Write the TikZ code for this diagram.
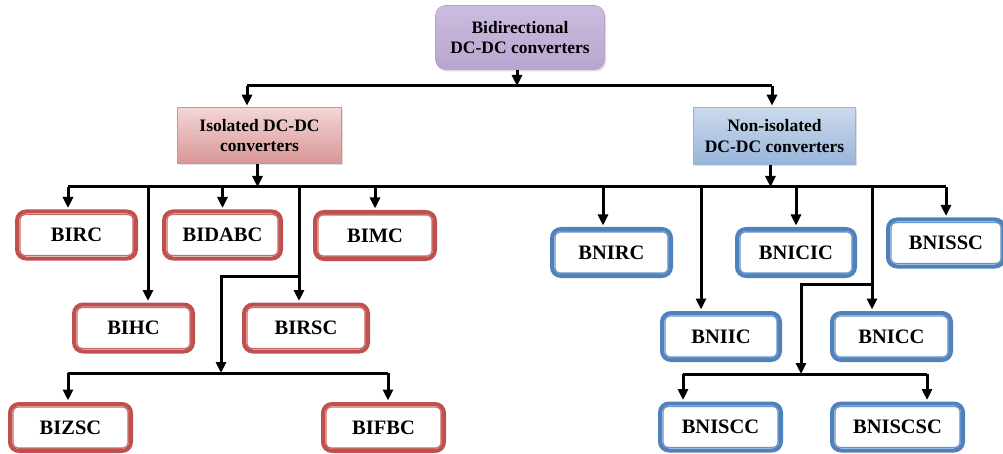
\documentclass[tikz,border=0pt]{standalone}
\usepackage{fontspec}
\setmainfont{Liberation Serif}
\usetikzlibrary{arrows.meta,shadows}
\definecolor{redb}{HTML}{C0504D}
\definecolor{blueb}{HTML}{4F81BD}
\definecolor{purA}{HTML}{CBBDDF}
\definecolor{purB}{HTML}{E3DCEC}
\definecolor{purC}{HTML}{B7A5CF}
\definecolor{purD}{HTML}{B3A2CA}
\definecolor{pinkA}{HTML}{F3D6D6}
\definecolor{pinkB}{HTML}{EDC5C5}
\definecolor{pinkC}{HTML}{D99696}
\definecolor{pinkD}{HTML}{D58E8E}
\definecolor{bluA}{HTML}{CCDAEC}
\definecolor{bluB}{HTML}{BBCEE6}
\definecolor{bluC}{HTML}{98B5DA}
\definecolor{bluD}{HTML}{95B3D7}
\tikzset{
  leaf/.style={draw=#1, line width=4pt, rounded corners=9pt, fill=white,
    minimum height=47pt, inner sep=0pt, font=\fontsize{20.5}{24}\selectfont\bfseries},
  leafin/.style={draw=#1!85!white, line width=1.3pt, rounded corners=5pt},
  midbox/.style={line width=0.6pt, align=center, inner sep=0pt,
    font=\fontsize{17.5}{20.5}\selectfont\bfseries,
    drop shadow={shadow xshift=1.5pt, shadow yshift=-2pt, opacity=0.25, fill=gray}},
  ln/.style={line width=3pt},
  arr/.style={line width=3pt, -{Triangle[width=10pt,length=11pt]}, shorten >=1.5pt},
}
\newcommand\leafnode[6]{%
  \node[leaf=#6, minimum width=#4pt] (#1) at (#2,#3) {#5};
  \draw[leafin=#6] ([shift={(4.9pt,-4.9pt)}]#1.north west) rectangle ([shift={(-4.9pt,4.9pt)}]#1.south east);}
\begin{document}
\begin{tikzpicture}[x=1pt,y=-1pt]
\useasboundingbox (0,0) rectangle (1003,454);
% main boxes
\node[midbox, draw=purD, rounded corners=10pt, minimum width=169pt, minimum height=64pt,
  top color=purA, middle color=purB, bottom color=purC] (top) at (520,37.5)
  {Bidirectional\\DC-DC converters};
\node[midbox, draw=pinkD, minimum width=164pt, minimum height=56pt,
  top color=pinkA, middle color=pinkB, bottom color=pinkC] (iso) at (259.5,135.5)
  {Isolated DC-DC\\converters};
\node[midbox, draw=bluD, minimum width=162pt, minimum height=57pt,
  top color=bluA, middle color=bluB, bottom color=bluC] (non) at (774.5,136)
  {Non-isolated\\DC-DC converters};
% leaves
\leafnode{BIRC}{76.5}{235}{119}{BIRC}{redb}
\leafnode{BIDABC}{222.5}{235}{117}{BIDABC}{redb}
\leafnode{BIMC}{375}{235.5}{120}{BIMC}{redb}
\leafnode{BIHC}{133.5}{328}{119}{BIHC}{redb}
\leafnode{BIRSC}{306}{328}{124}{BIRSC}{redb}
\leafnode{BIZSC}{70.5}{427.5}{121}{BIZSC}{redb}
\leafnode{BIFBC}{383.5}{427.5}{121}{BIFBC}{redb}
\leafnode{BNIRC}{611.5}{252.5}{119}{BNIRC}{blueb}
\leafnode{BNICIC}{796}{252.5}{118}{BNICIC}{blueb}
\leafnode{BNISSC}{946}{243}{116}{BNISSC}{blueb}
\leafnode{BNIIC}{721}{336.5}{118}{BNIIC}{blueb}
\leafnode{BNICC}{891.5}{336.5}{119}{BNICC}{blueb}
\leafnode{BNISCC}{720.5}{427}{121}{BNISCC}{blueb}
\leafnode{BNISCSC}{897.5}{427}{131}{BNISCSC}{blueb}
% bus coordinates
\coordinate (b0L) at (247,86);
\coordinate (b0R) at (772,86);
\coordinate (b1L) at (68,187);
\coordinate (b1R) at (946,187);
\coordinate (x148) at (148,187);
\coordinate (x299) at (299,187);
\coordinate (x603) at (603,187);
\coordinate (x701) at (701,187);
\coordinate (x872) at (872,187);
\coordinate (s1) at (299,276);
\coordinate (s2) at (872,284);
\coordinate (b2L) at (68,373);
\coordinate (b2R) at (388,373);
\coordinate (b2J) at (221,373);
\coordinate (b3L) at (683,374);
\coordinate (b3R) at (927,374);
\coordinate (b3J) at (801,374);
% top level
\draw[arr, shorten >=0pt] ([xshift=-3pt]top.south) -- ([xshift=-3pt]top.south |- b0L);
\draw[ln] (b0L) -- (b0R);
\draw[arr] (b0L) -- (b0L |- iso.north);
\draw[arr] (b0R) -- (b0R |- non.north);
% second level bus
\draw[arr, shorten >=0pt] ([xshift=-2pt]iso.south) -- ([xshift=-2pt]iso.south |- b1L);
\draw[arr, shorten >=0pt] ([xshift=-4pt]non.south) -- ([xshift=-4pt]non.south |- b1L);
\draw[ln] (b1L) -- (b1R);
\draw[arr] (b1L) -- (b1L |- BIRC.north);
\draw[arr] (BIDABC.north |- b1L) -- (BIDABC.north);
\draw[arr] (BIMC.north |- b1L) -- (BIMC.north);
\draw[arr] (x148) -- (x148 |- BIHC.north);
\draw[arr] (x299) -- (x299 |- BIRSC.north);
\draw[arr] (x603) -- (x603 |- BNIRC.north);
\draw[arr] (BNICIC.north |- b1L) -- (BNICIC.north);
\draw[arr] (b1R) -- (b1R |- BNISSC.north);
\draw[arr] (x701) -- (x701 |- BNIIC.north);
\draw[arr] (x872) -- (x872 |- BNICC.north);
% third level, isolated
\draw[arr, shorten >=0pt] (s1) -| (b2J);
\draw[ln] (b2L) -- (b2R);
\draw[arr] (b2L) -- (b2L |- BIZSC.north);
\draw[arr] (b2R) -- (b2R |- BIFBC.north);
% third level, non-isolated
\draw[arr, shorten >=0pt] (s2) -| (b3J);
\draw[ln] (b3L) -- (b3R);
\draw[arr] (b3L) -- (b3L |- BNISCC.north);
\draw[arr] (b3R) -- (b3R |- BNISCSC.north);
\end{tikzpicture}
\end{document}
